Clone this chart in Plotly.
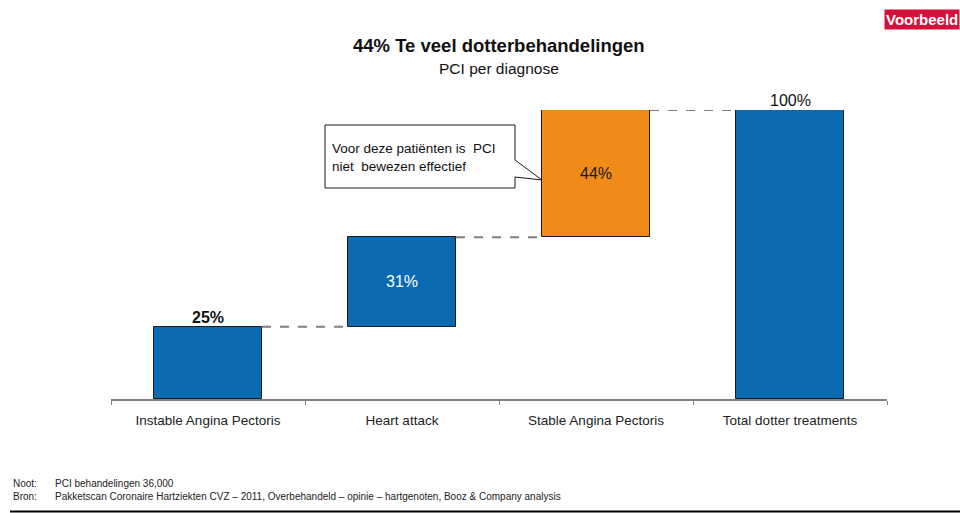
import plotly.graph_objects as go

# Waterfall data: share of PCI treatments per diagnosis
categories = ["Instable Angina Pectoris", "Heart attack", "Stable Angina Pectoris", "Total dotter treatments"]
values = [25, 31, 44, 100]
bases = [0, 25, 56, 0]
labels = ["25%", "31%", "44%", "100%"]

BLUE = "#0A6AB2"
ORANGE = "#F08A19"
bar_colors = [BLUE, BLUE, ORANGE, BLUE]

W, H = 960, 513
L, R, T, B = 111, 73, 110, 114
BAR_W = 0.557

fig = go.Figure()

fig.add_trace(go.Bar(
    x=categories, y=values, base=bases, width=BAR_W,
    marker=dict(color=bar_colors, line=dict(color="#1a1a1a", width=1)),
    hoverinfo="skip", showlegend=False,
))

# Dashed connectors between consecutive bar tops
tops = [b + v for b, v in zip(bases, values)]
shapes = []
for i in range(len(categories) - 1):
    shapes.append(dict(
        type="line", xref="x", yref="y",
        x0=i + BAR_W / 2, x1=i + 1 - BAR_W / 2, y0=tops[i], y1=tops[i],
        line=dict(color="#7f7f7f", width=2, dash="dash"),
    ))

# Helpers: page pixels -> paper coordinates
def px(xp):
    return (xp - L) / (W - L - R)

def py(yp):
    return (H - B - yp) / (H - T - B)

# Speech-bubble callout pointing at the stable angina bar
bubble = [(325, 125), (515, 125), (515, 160), (542, 180), (515, 177), (515, 188), (325, 188)]
path = "M " + " L ".join(f"{px(a):.4f},{py(b):.4f}" for a, b in bubble) + " Z"
shapes.append(dict(type="path", xref="paper", yref="paper", path=path,
                   fillcolor="white", line=dict(color="#1a1a1a", width=1)))

# Rule across the bottom of the page
shapes.append(dict(type="line", xref="paper", yref="paper",
                   x0=px(10), x1=px(960), y0=py(511.5), y1=py(511.5),
                   line=dict(color="black", width=2)))

FONT = "Liberation Sans, Arial, sans-serif"
annotations = []

# Value labels
annotations.append(dict(x=categories[0], y=tops[0], text="<b>25%</b>", showarrow=False,
                        yanchor="bottom", yshift=-1, font=dict(size=16, color="#111", family=FONT)))
annotations.append(dict(x=categories[1], y=bases[1] + values[1] / 2, text=labels[1], showarrow=False,
                        yanchor="middle", font=dict(size=16, color="white", family=FONT)))
annotations.append(dict(x=categories[2], y=bases[2] + values[2] / 2, text=labels[2], showarrow=False,
                        yanchor="middle", font=dict(size=16, color="#1a1a1a", family=FONT)))
annotations.append(dict(x=categories[3], y=tops[3], text=labels[3], showarrow=False,
                        yanchor="bottom", yshift=-1, font=dict(size=16, color="#111", family=FONT)))

# Titles
annotations.append(dict(xref="paper", yref="paper", x=0.5, y=py(46), yanchor="middle",
                        text="<b>44% Te veel dotterbehandelingen</b>",
                        showarrow=False, font=dict(size=18.5, color="#111", family=FONT)))
annotations.append(dict(xref="paper", yref="paper", x=0.5, y=py(68), yanchor="middle",
                        text="PCI per diagnose",
                        showarrow=False, font=dict(size=15.5, color="#111", family=FONT)))

# Callout text
annotations.append(dict(xref="paper", yref="paper", x=px(330), y=py(157), xanchor="left", yanchor="middle",
                        align="left", text="Voor deze patiënten is  PCI<br>niet  bewezen effectief",
                        showarrow=False, font=dict(size=13.5, color="#111", family=FONT)))

# "Voorbeeld" badge
annotations.append(dict(xref="paper", yref="paper", x=px(960), y=py(20), xanchor="right", yanchor="middle",
                        text="<b>Voorbeeld</b>", showarrow=False, bgcolor="#D5103A",
                        borderpad=1, font=dict(size=15, color="white", family=FONT)))

# Footnotes
for yy, head, body in [(483, "Noot:", "PCI behandelingen 36,000"),
                       (496, "Bron:", "Pakketscan Coronaire Hartziekten CVZ – 2011, Overbehandeld – opinie – hartgenoten, Booz &amp; Company analysis")]:
    annotations.append(dict(xref="paper", yref="paper", x=px(11), y=py(yy), xanchor="left", yanchor="middle",
                            text=head, showarrow=False, font=dict(size=10, color="#222", family=FONT)))
    annotations.append(dict(xref="paper", yref="paper", x=px(53), y=py(yy), xanchor="left", yanchor="middle",
                            text=body, showarrow=False, font=dict(size=10, color="#222", family=FONT)))

fig.update_layout(
    width=W, height=H,
    margin=dict(l=L, r=R, t=T, b=B),
    paper_bgcolor="white", plot_bgcolor="white",
    shapes=shapes, annotations=annotations,
    bargap=0,
    font=dict(family=FONT, color="#222"),
    xaxis=dict(
        type="category", range=[-0.5, 3.5], tickson="boundaries",
        ticks="outside", ticklen=4, tickcolor="#808080",
        showline=True, linecolor="#808080", linewidth=1.5,
        showgrid=False, zeroline=False, fixedrange=True,
        ticklabelstandoff=8,
        tickfont=dict(size=13.5, color="#222", family=FONT),
    ),
    yaxis=dict(range=[0, 100], visible=False, showgrid=False, zeroline=False, fixedrange=True),
)

fig.write_html("out.html", config={"displayModeBar": False})
